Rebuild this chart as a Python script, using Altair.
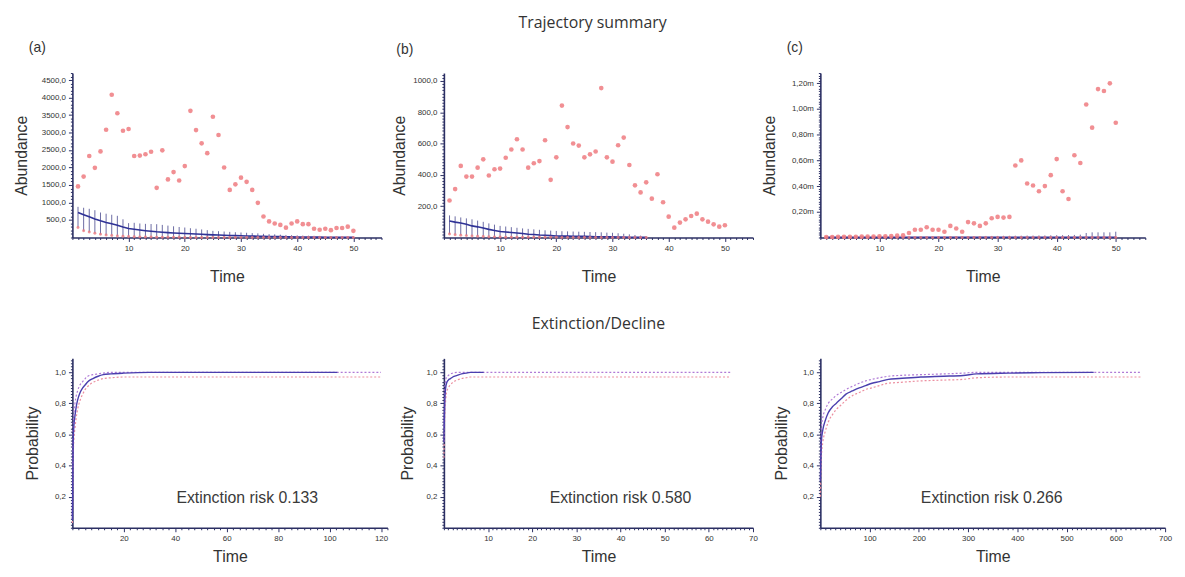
import altair as alt
import pandas as pd

FONT = "Liberation Sans"
AXIS_COLOR = "#2b2f63"
RED = "#ee7b80"
BLUE = "#2f3296"
CI_RED = "#ec8fa0"
CI_PURPLE = "#b07ad6"

# ---------------- Trajectory summary data ----------------
time_top = list(range(1, 51))

obs_a = [1460, 1740, 2330, 1990, 2460, 3080, 4080, 3550, 3050, 3100,
         2330, 2340, 2380, 2450, 1420, 2490, 1660, 1870, 1630, 2040,
         3620, 3070, 2690, 2410, 3450, 2930, 2000, 1360, 1520, 1710,
         1590, 1360, 990, 600, 460, 400, 360, 280, 400, 460,
         380, 380, 250, 220, 250, 210, 270, 270, 310, 190]
mean_a = [714, 650, 590, 530, 476, 430, 390, 350, 300, 257,
          235, 215, 195, 178, 162, 150, 140, 130, 122, 114,
          106, 98, 91, 83, 76, 70, 64, 58, 53, 48,
          44, 40, 37, 33, 30, 27, 24, 21, 18, 15,
          14, 12, 11, 10, 9, 8, 7, 6, 5, 5]
hi_a = [876, 850, 820, 780, 714, 680, 650, 620, 520, 410,
        420, 400, 390, 385, 380, 360, 340, 320, 300, 285,
        265, 250, 230, 210, 190, 180, 170, 160, 150, 143,
        135, 125, 118, 105, 95, 90, 80, 72, 66, 60,
        55, 52, 48, 45, 42, 40, 36, 34, 32, 30]
low_a = [285, 190, 160, 120, 90, 70, 55, 45, 35, 28,
         22, 18, 14, 11, 9, 7, 6, 5, 4, 3,
         3, 2, 2, 2, 1, 1, 1, 1, 1, 1,
         0, 0, 0, 0, 0, 0, 0, 0, 0, 0,
         0, 0, 0, 0, 0, 0, 0, 0, 0, 0]

obs_b = [236, 309, 457, 389, 389, 446, 499, 396, 436, 440,
         509, 562, 627, 562, 446, 474, 488, 621, 368, 512,
         842, 705, 600, 587, 512, 531, 549, 954, 512, 484,
         589, 638, 463, 333, 288, 352, 248, 404, 225, 133,
         63, 95, 116, 137, 152, 116, 101, 84, 69, 78]
time_b_model = list(range(1, 37))
mean_b = [105, 98, 92, 85, 74, 68, 60, 52, 45, 38,
          35, 32, 29, 25, 21, 19, 16, 14, 12, 10,
          9, 9, 8, 7, 7, 6, 5, 5, 4, 4,
          3, 3, 2, 2, 1, 1]
hi_b = [141, 135, 128, 122, 116, 108, 100, 90, 82, 74,
        70, 66, 62, 58, 55, 52, 49, 46, 44, 42,
        40, 39, 38, 37, 36, 35, 34, 33, 31, 30,
        27, 24, 20, 16, 12, 8]
low_b = [22, 18, 15, 12, 10, 8, 6, 5, 4, 3,
         2, 2, 2, 1, 1, 1, 1, 1, 1, 1,
         0, 0, 0, 0, 0, 0, 0, 0, 0, 0,
         0, 0, 0, 0, 0, 0]

# panel (c) values in millions
obs_c = [0.004, 0.004, 0.005, 0.005, 0.006, 0.006, 0.007, 0.007, 0.008, 0.009,
         0.010, 0.012, 0.014, 0.016, 0.035, 0.060, 0.060, 0.080, 0.060, 0.060,
         0.045, 0.090, 0.070, 0.045, 0.120, 0.110, 0.090, 0.110, 0.150, 0.160,
         0.155, 0.160, 0.560, 0.600, 0.420, 0.405, 0.360, 0.400, 0.485, 0.610,
         0.360, 0.300, 0.640, 0.580, 1.035, 0.855, 1.155, 1.140, 1.200, 0.893]
mean_c = [0.002] * 50
hi_c = [0.004, 0.004, 0.004, 0.004, 0.005, 0.005, 0.005, 0.005, 0.005, 0.006,
        0.006, 0.006, 0.006, 0.007, 0.007, 0.007, 0.008, 0.008, 0.008, 0.009,
        0.009, 0.009, 0.010, 0.010, 0.010, 0.011, 0.011, 0.012, 0.012, 0.012,
        0.013, 0.013, 0.014, 0.014, 0.015, 0.015, 0.016, 0.016, 0.017, 0.018,
        0.018, 0.019, 0.020, 0.022, 0.035, 0.040, 0.040, 0.040, 0.040, 0.045]

# ---------------- Extinction / decline data ----------------
time_d = [0, 0.3, 0.6, 1, 1.5, 2, 3, 4, 5, 6, 8, 10, 12, 15, 20, 30, 40, 60, 80, 103]
prob_d = [0.05, 0.55, 0.66, 0.72, 0.78, 0.82, 0.87, 0.90, 0.92, 0.94,
          0.96, 0.975, 0.985, 0.99, 0.995, 1.0, 1.0, 1.0, 1.0, 1.0]
time_d_ci = [0, 0.3, 0.6, 1, 1.5, 2, 3, 4, 5, 6, 8, 10, 12, 15, 20, 30, 40, 60, 80, 103, 120]
lo_d = [0.03, 0.45, 0.57, 0.64, 0.71, 0.76, 0.82, 0.86, 0.89, 0.91,
        0.935, 0.95, 0.96, 0.965, 0.97, 0.97, 0.97, 0.97, 0.97, 0.97, 0.97]
hi_d = [0.08, 0.65, 0.74, 0.80, 0.85, 0.88, 0.92, 0.94, 0.96, 0.975,
        0.985, 0.99, 0.995, 1.0, 1.0, 1.0, 1.0, 1.0, 1.0, 1.0, 1.0]

time_e = [0, 0.1, 0.2, 0.4, 0.6, 1, 1.5, 2, 3, 4, 5, 6, 9]
prob_e = [0.55, 0.70, 0.82, 0.90, 0.93, 0.95, 0.96, 0.97, 0.98, 0.99, 0.995, 1.0, 1.0]
time_e_ci = [0, 0.1, 0.2, 0.4, 0.6, 1, 1.5, 2, 3, 4, 5, 6, 9, 65]
lo_e = [0.45, 0.60, 0.72, 0.82, 0.87, 0.90, 0.92, 0.935, 0.95, 0.96, 0.965, 0.97, 0.97, 0.97]
hi_e = [0.65, 0.78, 0.88, 0.95, 0.97, 0.98, 0.99, 0.995, 1.0, 1.0, 1.0, 1.0, 1.0, 1.0]

time_f = [0, 2, 5, 10, 16, 25, 32, 42, 52, 65, 79, 92, 105, 120, 138, 160, 204,
          250, 290, 317, 383, 450, 555]
prob_f = [0.30, 0.55, 0.63, 0.69, 0.74, 0.78, 0.80, 0.83, 0.86, 0.88, 0.90, 0.915,
          0.93, 0.94, 0.955, 0.96, 0.97, 0.975, 0.98, 0.99, 0.995, 0.998, 1.0]
time_f_ci = time_f + [650]
lo_f = [0.20, 0.45, 0.55, 0.62, 0.68, 0.73, 0.76, 0.79, 0.82, 0.85, 0.87, 0.89,
        0.90, 0.915, 0.93, 0.935, 0.945, 0.95, 0.955, 0.965, 0.97, 0.97, 0.97, 0.97]
hi_f = [0.40, 0.64, 0.71, 0.76, 0.80, 0.83, 0.85, 0.87, 0.89, 0.91, 0.93, 0.945,
        0.955, 0.965, 0.975, 0.98, 0.985, 0.99, 0.995, 1.0, 1.0, 1.0, 1.0, 1.0]

risk_labels = ["Extinction risk 0.133", "Extinction risk 0.580", "Extinction risk 0.266"]
risk_x = [68, 40, 348]
risk_y = [0.19, 0.19, 0.19]

panel_letters = ["(a)", "(b)", "(c)"]


def frac_axis(title, maxv, minor, major, kind, title_pad):
    n = int(round(maxv / minor))
    vals = [round(i * minor, 6) for i in range(n + 1)]
    test = (f"abs(datum.value/{major} - round(datum.value/{major})) < 0.0001"
            f" && datum.value > {minor / 2}")
    if kind == "int":
        lab = "format(datum.value, 'd')"
    elif kind == "dec1":
        lab = "replace(format(datum.value, '.1f'), '.', ',')"
    else:
        lab = "replace(format(datum.value, '.2f'), '.', ',') + 'm'"
    return alt.Axis(
        title=title, values=vals, tickCount=1000, labelExpr=f"{test} ? {lab} : ''",
        tickSize=alt.condition(test, alt.value(4), alt.value(2)),
        titlePadding=title_pad, labelOverlap=False, labelFlush=False,
        labelBound=False,
    )


def top_panel(letter, title_dx, obs, t_model, mean, hi, low, ymax, yminor, ymajor,
              kind, width, title_pad):
    df_obs = pd.DataFrame({"t": time_top, "v": obs})
    df_mod = pd.DataFrame({"t": t_model, "m": mean, "hi": hi, "lo": low})
    xs = alt.Scale(domain=[0, 55], nice=False, zero=False)
    ys = alt.Scale(domain=[0, ymax], nice=False, zero=False)
    xax = frac_axis("Time", 55, 1, 10, "int", 16)
    yax = frac_axis("Abundance", ymax, yminor, ymajor, kind, title_pad)
    bars = alt.Chart(df_mod).mark_rule(color="#3a3a85", strokeWidth=1, opacity=0.75).encode(
        x=alt.X("t:Q", scale=xs, axis=xax),
        y=alt.Y("lo:Q", scale=ys, axis=yax),
        y2="hi:Q",
    )
    line = alt.Chart(df_mod).mark_line(color=BLUE, strokeWidth=1.6).encode(
        x="t:Q", y="m:Q")
    lowpts = alt.Chart(df_mod).mark_circle(color=RED, size=9, opacity=0.8).encode(
        x="t:Q", y="lo:Q")
    pts = alt.Chart(df_obs).mark_circle(color=RED, size=22, opacity=0.85).encode(
        x="t:Q", y="v:Q")
    return alt.layer(bars, line, lowpts, pts).properties(
        width=width, height=166,
        title=alt.TitleParams(letter, anchor="start", frame="group", dx=title_dx,
                              fontSize=14, font=FONT, fontWeight="normal",
                              color="#333", offset=14),
    )


def bottom_panel(t, p, tci, lo, hi, xmax, xminor, xmajor, width, label, lx, ly,
                 title_pad, title=None):
    df = pd.DataFrame({"t": t, "p": p})
    dci = pd.DataFrame({"t": tci, "lo": lo, "hi": hi})
    dtx = pd.DataFrame({"t": [lx], "p": [ly], "txt": [label]})
    xs = alt.Scale(domain=[0, xmax], nice=False, zero=False)
    ys = alt.Scale(domain=[0, 1.09], nice=False, zero=False)
    xax = frac_axis("Time", xmax, xminor, xmajor, "int", 6)
    yax = frac_axis("Probability", 1.08, 0.02, 0.2, "dec1", title_pad)
    lo_line = alt.Chart(dci).mark_line(color=CI_RED, strokeWidth=1.2,
                                       strokeDash=[2, 2], interpolate="monotone").encode(
        x=alt.X("t:Q", scale=xs, axis=xax),
        y=alt.Y("lo:Q", scale=ys, axis=yax))
    hi_line = alt.Chart(dci).mark_line(color=CI_PURPLE, strokeWidth=1.2,
                                       strokeDash=[2, 2], interpolate="monotone").encode(
        x="t:Q", y="hi:Q")
    main = alt.Chart(df).mark_line(color="#4b3fae", strokeWidth=1.4,
                                   interpolate="monotone").encode(x="t:Q", y="p:Q")
    txt = alt.Chart(dtx).mark_text(font=FONT, fontSize=16, color="#3a3a3a").encode(
        x="t:Q", y="p:Q", text="txt:N")
    props = dict(width=width, height=171)
    if title is not None:
        props["title"] = title
    return alt.layer(lo_line, hi_line, main, txt).properties(**props)


pa = top_panel(panel_letters[0], -44, obs_a, time_top, mean_a, hi_a, low_a,
               4700, 100, 500, "dec1", 312, 12)
pb = top_panel(panel_letters[1], -48, obs_b, time_b_model, mean_b, hi_b, low_b,
               1050, 20, 200, "dec1", 312, 5)
pc = top_panel(panel_letters[2], -34, obs_c, time_top, mean_c, hi_c, [0] * 50,
               1.28, 0.02, 0.2, "mill", 328, 14)

pd_ = bottom_panel(time_d, prob_d, time_d_ci, lo_d, hi_d, 122.5, 2.5, 20, 318,
                   risk_labels[0], risk_x[0], risk_y[0], 14)
pe = bottom_panel(time_e, prob_e, time_e_ci, lo_e, hi_e, 70, 1, 10, 312,
                  risk_labels[1], risk_x[1], risk_y[1], 11,
                  title=alt.TitleParams("Extinction/Decline", anchor="middle", frame="group",
                                        fontSize=16, font="Open Sans", fontWeight="normal",
                                        color="#333", offset=24))
pf = bottom_panel(time_f, prob_f, time_f_ci, lo_f, hi_f, 700, 10, 100, 348,
                  risk_labels[2], risk_x[2], risk_y[2], 13)

chart = alt.concat(
    pa, pb, pc, pd_, pe, pf, columns=3, align="each",
    spacing={"row": 32, "column": 3},
    title=alt.TitleParams("Trajectory summary", anchor="middle", fontSize=16,
                          font="Open Sans", fontWeight="normal", color="#333", offset=10),
).configure_view(stroke=None).configure_axis(
    domainColor=AXIS_COLOR, domainWidth=1.6, tickColor=AXIS_COLOR, tickWidth=1,
    labelFontSize=8, labelColor="#333", labelFont=FONT, labelPadding=3,
    grid=False,
    titleFont=FONT, titleFontSize=16, titleFontWeight="normal", titleColor="#333",
)

chart.save("out.html", embed_options={"renderer": "svg", "actions": False})
